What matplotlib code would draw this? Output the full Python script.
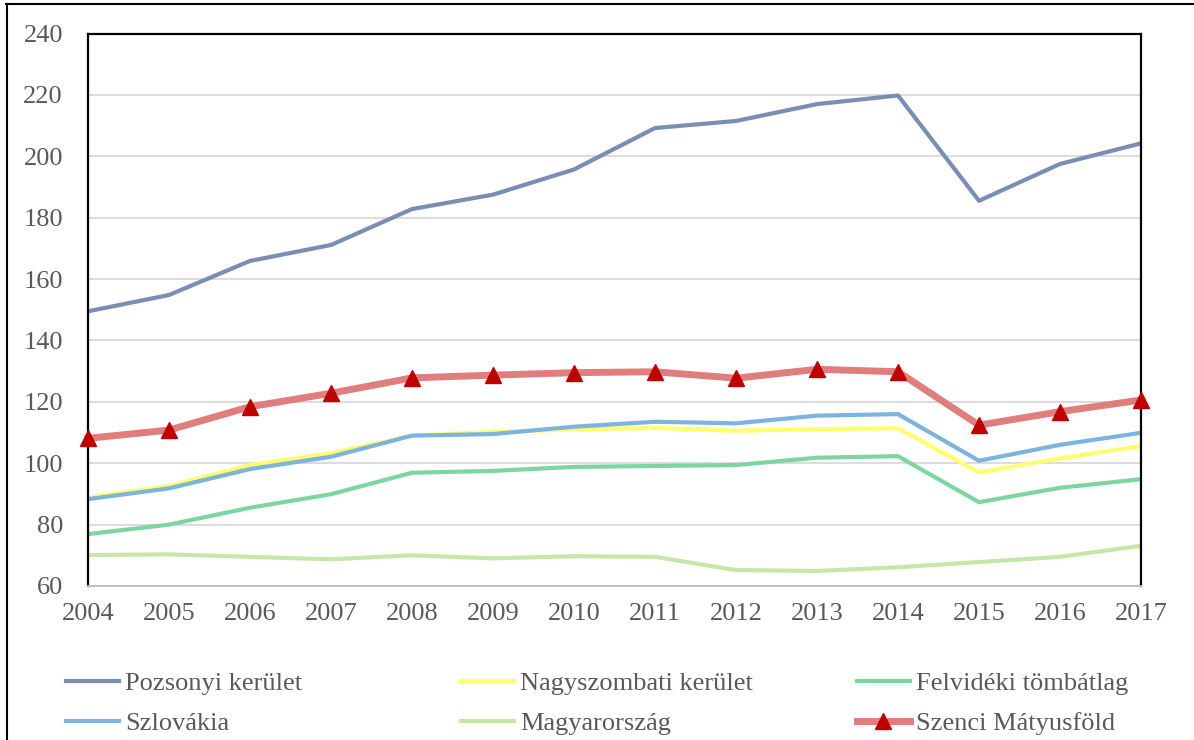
import matplotlib
matplotlib.use('Agg')
import matplotlib.pyplot as plt
from matplotlib.lines import Line2D

plt.rcParams['font.family'] = ['Liberation Serif', 'DejaVu Serif']

years = list(range(2004, 2018))

pozsonyi = [149.5, 154.8, 165.9, 171.1, 182.8, 187.5, 195.7, 209.2, 211.5, 217.0, 219.8, 185.5, 197.5, 204.2]
nagyszombati = [88.8, 92.6, 99.4, 103.2, 109.0, 110.2, 111.0, 111.5, 110.6, 111.1, 111.4, 97.0, 101.6, 105.6]
felvideki = [76.9, 80.0, 85.5, 89.9, 96.9, 97.5, 98.8, 99.1, 99.4, 101.8, 102.3, 87.3, 92.0, 94.8]
szlovakia = [88.3, 91.8, 98.1, 102.1, 109.0, 109.5, 111.9, 113.5, 113.0, 115.5, 116.0, 100.8, 106.0, 109.9]
magyarorszag = [70.1, 70.3, 69.5, 68.7, 70.0, 69.0, 69.7, 69.5, 65.2, 64.9, 66.1, 67.8, 69.5, 73.1]
szenci = [108.1, 110.8, 118.4, 122.8, 127.8, 128.7, 129.5, 129.8, 127.7, 130.6, 129.8, 112.4, 116.8, 120.6]

labels = ['Pozsonyi kerület', 'Nagyszombati kerület', 'Felvidéki tömbátlag',
          'Szlovákia', 'Magyarország', 'Szenci Mátyusföld']
colors = ['#7A8DB3', '#FFFF6E', '#7DD6A2', '#7CB4DF', '#C8E6A8', '#E07D7D']

text_color = '#595959'

fig = plt.figure(figsize=(11.94, 7.40), dpi=100)
ax = fig.add_axes([88 / 1194, 1 - 586 / 740, (1141 - 88) / 1194, (586 - 33.5) / 740])

lw = 3.0
h_poz, = ax.plot(years, pozsonyi, color=colors[0], lw=lw, label=labels[0])
h_nagy, = ax.plot(years, nagyszombati, color=colors[1], lw=lw, label=labels[1])
h_felv, = ax.plot(years, felvideki, color=colors[2], lw=lw, label=labels[2])
h_szlo, = ax.plot(years, szlovakia, color=colors[3], lw=lw, label=labels[3])
h_magy, = ax.plot(years, magyarorszag, color=colors[4], lw=lw, label=labels[4])
h_szen, = ax.plot(years, szenci, color=colors[5], lw=5, marker='^', markersize=12,
                  markerfacecolor='#C00000', markeredgecolor='#C00000',
                  label=labels[5], clip_on=False, zorder=5)

ax.set_xlim(2004, 2017)
ax.set_ylim(60, 240)
ax.set_yticks(range(60, 241, 20))
ax.set_xticks(years)
ax.grid(axis='y', color='#D9D9D9', lw=1.3)
ax.set_axisbelow(True)
ax.tick_params(length=0, labelsize=19, labelcolor=text_color)
ax.tick_params(axis='y', pad=18)
ax.tick_params(axis='x', pad=12)

for side in ['left', 'top', 'right']:
    ax.spines[side].set_color('black')
    ax.spines[side].set_linewidth(1.6)
ax.spines['bottom'].set_color('#BFBFBF')
ax.spines['bottom'].set_linewidth(1.3)

# legend: three columns placed separately
cols = [([h_poz, h_szlo], 66), ([h_nagy, h_magy], 461), ([h_felv, h_szen], 857)]
for handles, xpix in cols:
    leg = fig.legend(handles=handles, loc='upper left',
                     bbox_to_anchor=(xpix / 1194, 1 - 672 / 740),
                     frameon=False, fontsize=19, handlelength=2.0,
                     handletextpad=0.25, borderpad=0, borderaxespad=0,
                     labelspacing=0.62, labelcolor=text_color)

# outer frame (only top and left are visible)
fig.add_artist(Line2D([6 / 1194, 1], [1 - 4 / 740, 1 - 4 / 740], color='black', lw=1.5))
fig.add_artist(Line2D([7 / 1194, 7 / 1194], [0, 1 - 4 / 740], color='black', lw=1.5))

fig.savefig('out.png', dpi=100)
